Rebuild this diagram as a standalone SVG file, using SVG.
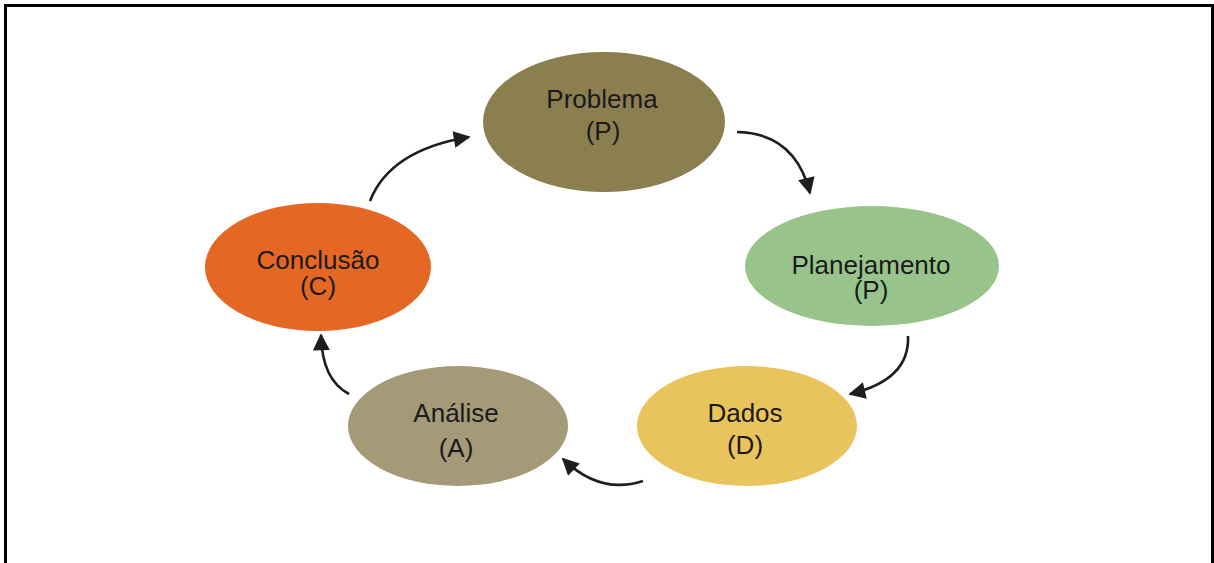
<svg xmlns="http://www.w3.org/2000/svg" width="1214" height="563" viewBox="0 0 1214 563">
<defs>
<marker id="ah" viewBox="0 0 10 10" refX="9" refY="5" markerWidth="7" markerHeight="6.5" orient="auto" markerUnits="strokeWidth">
<path d="M0,0 L10,5 L0,10 z" fill="#1e1e1e"/>
</marker>
<style>
.lbl{font-family:"Liberation Sans",Arial,sans-serif;font-size:26px;fill:#1a1a1a;text-anchor:middle}
.cn{fill:none;stroke:#1e1e1e;stroke-width:2.6;marker-end:url(#ah)}
</style>
</defs>
<rect x="0" y="0" width="1214" height="563" fill="#ffffff"/>
<path d="M5.5,563 V5.5 H1212.5 V563" fill="none" stroke="#000" stroke-width="3"/>
<g id="problema">
<ellipse cx="604" cy="122" rx="121" ry="70" fill="#8b7f50"/>
<text class="lbl" x="602" y="108">Problema</text>
<text class="lbl" x="603" y="140">(P)</text>
</g>
<g id="planejamento">
<ellipse cx="872" cy="266" rx="127" ry="60" fill="#98c48b"/>
<text class="lbl" x="871" y="274">Planejamento</text>
<text class="lbl" x="871" y="299">(P)</text>
</g>
<g id="dados">
<ellipse cx="747" cy="426" rx="110" ry="60" fill="#e9c35c"/>
<text class="lbl" x="745" y="422">Dados</text>
<text class="lbl" x="745" y="454">(D)</text>
</g>
<g id="analise">
<ellipse cx="458" cy="426" rx="110" ry="60" fill="#a49a78"/>
<text class="lbl" x="456" y="422">Análise</text>
<text class="lbl" x="456" y="457">(A)</text>
</g>
<g id="conclusao">
<ellipse cx="318" cy="267" rx="113" ry="64" fill="#e46824"/>
<text class="lbl" x="318" y="269">Conclusão</text>
<text class="lbl" x="318" y="295">(C)</text>
</g>
<g id="connectors">
<path class="cn" d="M370,201 Q390,150 469,137"/>
<path class="cn" d="M737,132 Q795,133 810,193"/>
<path class="cn" d="M908,336 Q910,380 850,394"/>
<path class="cn" d="M643,481 Q600,495 563,459"/>
<path class="cn" d="M349,394 Q322,380 321,335"/>
</g>
</svg>
